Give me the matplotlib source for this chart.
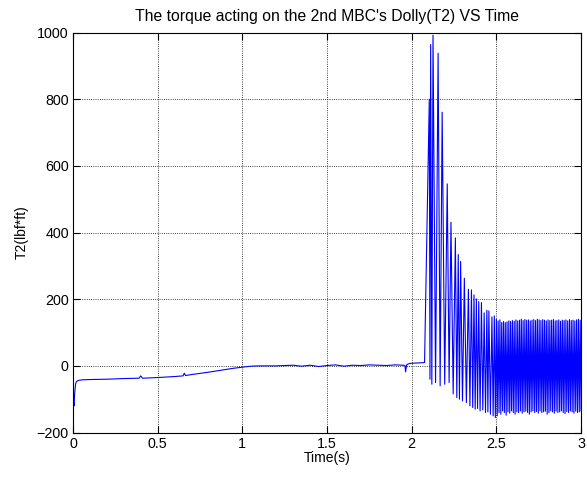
import numpy as np
import matplotlib
matplotlib.use("Agg")
import matplotlib.pyplot as plt

# slow part of the signal (time in s, torque in lbf*ft)
t_pre = [0.0, 0.003, 0.006, 0.01, 0.015, 0.02, 0.03, 0.05, 0.1, 0.2, 0.3,
         0.39, 0.40, 0.41, 0.5, 0.6, 0.65, 0.657, 0.665, 0.7, 0.8, 0.9, 0.95,
         1.0, 1.05, 1.1, 1.2, 1.3, 1.35, 1.4, 1.45, 1.5, 1.55, 1.6, 1.65, 1.7,
         1.75, 1.8, 1.85, 1.9, 1.95, 1.96, 1.964, 1.97, 1.98, 2.0, 2.05, 2.076]
T_pre = [-60, -110, -120, -80, -55, -47, -44, -42, -41, -40, -38,
         -37, -30, -37, -35, -32, -30, -22, -29, -26, -19, -11, -7,
         -4, -1, 0, 0, 2, -1, 2, -2, 1, 3, -1, 2, 1,
         3, 2, 1, 3, 2, 1, -18, 3, 6, 8, 9, 10]

# transient: individual peaks and the troughs that follow them
t_peak = [2.104, 2.112, 2.126, 2.156, 2.18, 2.21, 2.232, 2.258, 2.275, 2.289,
          2.311, 2.335, 2.353, 2.368, 2.382, 2.396, 2.412, 2.428, 2.444,
          2.456, 2.474, 2.488]
T_peak = [800, 964, 992, 938, 761, 546, 431, 384, 334, 313,
          263, 230, 228, 213, 201, 193, 190, 159, 167, 165, 147, 150]
T_trough = [-40, -55, -50, -60, -55, -50, -84, -95, -100, -105, -110,
            -120, -125, -130, -128, -135, -132, -140, -138, -145, -150, -155]

# steady oscillation from 2.5 s to 3 s
t_steady_start, t_steady_end = 2.5, 2.995
P_steady = [140, 135, 138, 130, 133, 130, 132, 135, 133, 136, 134, 138,
            135, 137, 140, 136, 139, 137, 138, 135, 137, 139, 136, 140,
            138, 136, 139, 137, 135, 138, 136, 137, 139, 135, 136, 138,
            134, 137, 136, 138, 135, 139, 136, 137, 135, 138, 140, 137]
Q_steady = [-150, -140, -145, -135, -140, -148, -138, -142, -135, -140,
            -145, -138, -140, -135, -142, -138, -136, -140, -145, -138,
            -135, -140, -137, -142, -135, -140, -138, -136, -145, -140,
            -135, -138, -142, -136, -140, -138, -135, -140, -143, -137,
            -140, -135, -138, -142, -136, -140, -138, -135]

t_st = np.linspace(t_steady_start, t_steady_end, len(P_steady))
dt = t_st[1] - t_st[0]

t_all = list(t_pre)
T_all = list(T_pre)
for i in range(len(t_peak)):
    nxt = t_peak[i + 1] if i + 1 < len(t_peak) else t_steady_start
    t_all += [t_peak[i], 0.5 * (t_peak[i] + nxt)]
    T_all += [T_peak[i], T_trough[i]]
for i in range(len(P_steady)):
    t_all += [t_st[i], t_st[i] + 0.5 * dt]
    T_all += [P_steady[i], Q_steady[i]]

plt.rcParams["font.family"] = ["Liberation Sans", "DejaVu Sans"]
fig = plt.figure(figsize=(5.87, 4.79), dpi=100)
ax = fig.add_axes([0.1244, 0.097, 0.8654, 0.835])

ax.plot(t_all, T_all, color="#0000ff", linewidth=0.8)

ax.set_xlim(0, 3)
ax.set_ylim(-200, 1000)
ax.set_xticks([0, 0.5, 1, 1.5, 2, 2.5, 3])
ax.set_xticklabels(["0", "0.5", "1", "1.5", "2", "2.5", "3"])
ax.set_yticks(range(-200, 1001, 200))
ax.tick_params(direction="in", top=True, right=True, length=5, labelsize=10.3, pad=3)
ax.grid(True, color="black", linestyle=":", linewidth=0.6)
for s in ax.spines.values():
    s.set_linewidth(0.8)

ax.set_title("The torque acting on the 2nd MBC's Dolly(T2) VS Time", fontsize=11.3, pad=8)
ax.set_xlabel("Time(s)", fontsize=10, labelpad=0)
ax.set_ylabel("T2(lbf*ft)", fontsize=10, labelpad=6)

fig.savefig("out.png", dpi=100)
